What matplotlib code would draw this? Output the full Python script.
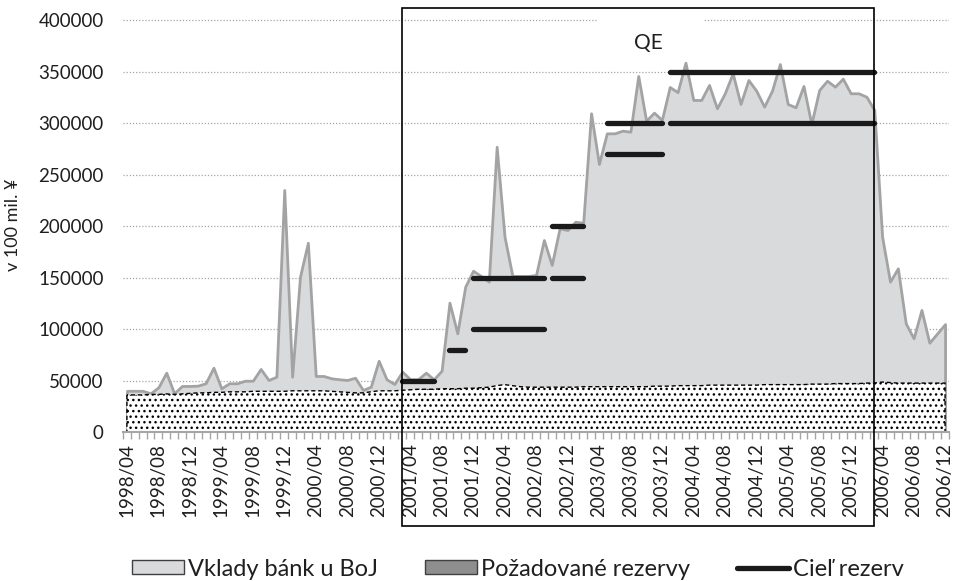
import numpy as np
import pandas as pd
import matplotlib
matplotlib.use("Agg")
import matplotlib.pyplot as plt
import matplotlib.transforms as mtransforms
from matplotlib.patches import Patch, Rectangle
from matplotlib.lines import Line2D

plt.rcParams['font.family'] = ['Lato', 'DejaVu Sans']

# -------- Data (100 mil. yen, monthly) --------
months = pd.period_range('1998-04', '2006-12', freq='M').strftime('%Y/%m').tolist()

deposits = [
    40000, 40000, 40000, 37600, 43400, 57600, 37600, 44700, 44700, 45000,
    47300, 62400, 42400, 47300, 47300, 49800, 49800, 61200, 50500, 53700,
    235000, 53700, 150800, 183800, 54400, 54400, 52100, 51200, 50500, 52700,
    40800, 44000, 69200, 51200, 46600, 58600, 51200, 51200, 57600, 51200,
    59500, 125600, 95800, 141100, 156600, 151500, 146000, 277000, 189600, 151500,
    151500, 151500, 152400, 186400, 162200, 197800, 196100, 204200, 203200, 309500,
    260200, 290000, 290000, 292600, 291600, 345700, 302300, 310100, 303000, 335000,
    330000, 358600, 322400, 322400, 337000, 314300, 328900, 348300, 318500, 341800,
    331400, 315900, 331400, 357300, 318500, 315300, 336000, 299100, 332100, 341100,
    335300, 343100, 328900, 328900, 325600, 312700, 189600, 146000, 158900, 105500,
    91000, 118500, 86700, 95800, 104800,
]

required = [
    36000, 36000, 36000, 36500, 36500, 37000, 36500, 37000, 37500, 38000,
    38000, 38500, 38500, 39000, 39000, 39000, 39500, 39500, 39500, 39500,
    39500, 40000, 40000, 40000, 40000, 40000, 39500, 39000, 38500, 38000,
    38000, 39000, 40000, 40000, 40000, 40500, 41000, 41500, 41500, 41500,
    42000, 42000, 42000, 42500, 42500, 43000, 43500, 45000, 46000, 45000,
    44000, 43500, 43500, 43500, 43500, 43500, 43500, 43500, 44000, 44000,
    44000, 44000, 44000, 44000, 44000, 44000, 44000, 44500, 44500, 44500,
    45000, 45000, 45000, 45000, 45500, 45500, 45500, 45500, 45500, 45500,
    45500, 46000, 46000, 46000, 46000, 46000, 46000, 46500, 46500, 46500,
    47000, 47000, 47000, 47000, 47500, 47500, 48500, 48000, 47500, 47500,
    47500, 47500, 47500, 47500, 47500,
]

target_start = ['2001/03', '2001/09', '2001/12', '2001/12', '2002/10',
                '2002/10', '2003/05', '2003/05', '2004/01', '2004/01']
target_end = ['2001/07', '2001/11', '2002/09', '2002/09', '2003/02',
              '2003/02', '2003/12', '2003/12', '2006/03', '2006/03']
target_value = [50000, 80000, 100000, 150000, 150000,
                200000, 270000, 300000, 300000, 350000]

qe_start, qe_end = '2001/03', '2006/03'

y_ticks = [0, 50000, 100000, 150000, 200000, 250000, 300000, 350000, 400000]

# -------- Canvas --------
W, H = 956, 581
TXT = '#1f1f1f'
FS = 13.5
FS_LEG = 17

fig = plt.figure(figsize=(W / 100, H / 100), dpi=100)
ax = fig.add_axes([123 / W, 1 - 432 / H, (949 - 123) / W, (432 - 18) / H])

x = np.arange(len(months))
pos = {m: i for i, m in enumerate(months)}

# areas
ax.fill_between(x, 0, deposits, facecolor='#d9dadc', edgecolor='#a3a3a3',
                linewidth=2, zorder=2)
ax.fill_between(x, 0, required, facecolor='white', edgecolor='black',
                hatch='...', linewidth=1, linestyle=(0, (3, 2)), zorder=3)

# reserve targets
for s, e, v in zip(target_start, target_end, target_value):
    ax.plot([pos[s], pos[e]], [v, v], color='#1a1a1a', lw=3.8,
            solid_capstyle='round', zorder=5)

# QE box (spans plot and labels)
blend = mtransforms.blended_transform_factory(ax.transData, fig.transFigure)
y0, y1 = 1 - 526 / H, 1 - 8 / H
ax.add_patch(Rectangle((pos[qe_start], y0), pos[qe_end] - pos[qe_start], y1 - y0,
                       transform=blend, fill=False, ec='black', lw=1.2,
                       clip_on=False, zorder=6))
ax.add_patch(Rectangle((59.7, 375000), 13.5, 30000, fc='white', ec='none', zorder=1))
ax.text(66.3, 378000, 'QE', ha='center', va='center', fontsize=15, color=TXT, zorder=7)

# axes styling
ax.set_xlim(-0.5, len(months) - 0.5)
ax.set_ylim(0, 402000)
ax.set_yticks(y_ticks)
ax.set_yticklabels([str(v) for v in y_ticks])
ax.set_axisbelow(True)
ax.yaxis.grid(True, color='#a6a6a6', linestyle=(0, (1, 1.5)), linewidth=0.9)

for sp in ['top', 'left', 'right']:
    ax.spines[sp].set_visible(False)
ax.spines['bottom'].set_color('#a6a6a6')
ax.spines['bottom'].set_linewidth(1.5)
ax.spines['bottom'].set_zorder(4)

ax.set_xticks(x[::4])
ax.set_xticklabels(months[::4])
ax.set_xticks(np.arange(-0.5, len(months)), minor=True)
ax.tick_params(axis='x', which='major', length=0, pad=8, labelrotation=90,
               labelsize=FS, labelcolor=TXT)
ax.tick_params(axis='x', which='minor', length=5, color='#a6a6a6', width=1)
ax.tick_params(axis='y', length=0, pad=14, labelsize=FS, labelcolor=TXT)

ax.set_ylabel('v 100 mil. ¥', fontsize=13, color=TXT)
ax.yaxis.set_label_coords((21 - 123) / (949 - 123), 0.5)

# legend
handles = [
    Patch(facecolor='#d9dadc', edgecolor='#404040', linewidth=1),
    Patch(facecolor='#8e8e8e', edgecolor='#404040', linewidth=1),
    Line2D([], [], color='#1a1a1a', lw=3.8, solid_capstyle='round'),
]
labels = ['Vklady bánk u BoJ', 'Požadované rezervy', 'Cieľ rezerv']
fig.legend(handles, labels, loc='center', bbox_to_anchor=(518 / W, 1 - 569 / H),
           ncol=3, frameon=False, fontsize=FS_LEG, handlelength=2.2,
           handleheight=0.55, handletextpad=0.17, columnspacing=2.0,
           labelcolor=TXT, borderaxespad=0, borderpad=0)

fig.savefig('out.png', dpi=100)
